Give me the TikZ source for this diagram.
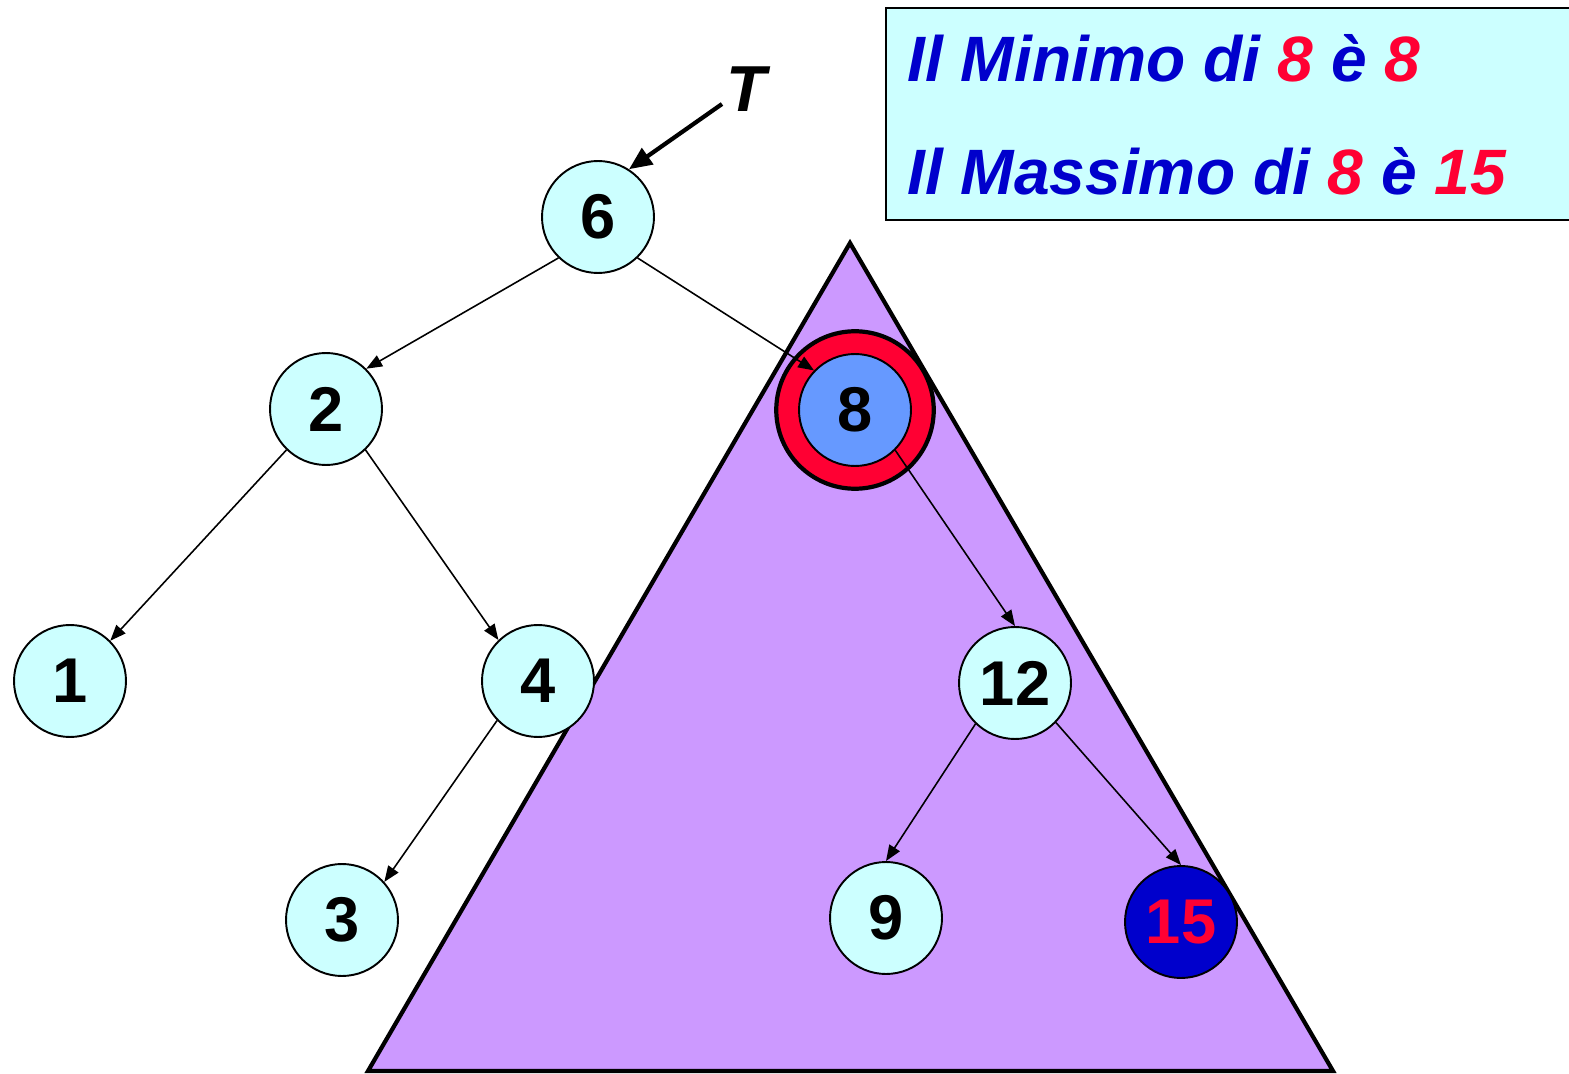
\documentclass[tikz,border=0pt]{standalone}
\usepackage{fontspec}
\setmainfont{Liberation Sans}
\usetikzlibrary{arrows.meta}
\definecolor{pale}{HTML}{CCFFFF}
\definecolor{lilac}{HTML}{CC99FF}
\definecolor{sky}{HTML}{6699FF}
\definecolor{hot}{HTML}{FF0033}
\definecolor{deep}{HTML}{0000CC}
\newcommand{\red}[1]{\textcolor{hot}{#1}}

\begin{document}
\begin{tikzpicture}[x=0.02cm,y=-0.02cm,
  knot/.style={circle,draw,line width=1.1pt,fill=pale,minimum size=2.24cm,inner sep=0pt,font=\fontsize{36}{40}\selectfont\bfseries},
  edge/.style={line width=0.9pt,-{Triangle[length=9pt,width=7pt]}},
  say/.style={anchor=base west,inner sep=0pt,text=deep,font=\fontsize{36.5}{40}\selectfont\bfseries\itshape}]
\useasboundingbox (0,0) rectangle (1569,1074);
% subtree of 8
\draw[fill=lilac,line width=2.4pt] (850,243) -- (1333,1071) -- (368,1071) -- cycle;
% result box
\draw[fill=pale,line width=1.2pt] (886,8) rectangle (1580,220);
\node[say] (minl) at (907,82) {Il Minimo di \red{8} è \red{8}};
\node[say] (maxl) at (907,195) {Il Massimo di \red{8} è \red{15}};
% nodes
\node[knot] (n6) at (598,217) {6};
\node[knot] (n2) at (326,409) {2};
\node[knot] (n1) at (70,681) {1};
\node[knot] (n4) at (538,681) {4};
\node[knot] (n3) at (342,920) {3};
\node[circle,draw,line width=2.4pt,fill=hot,minimum size=3.15cm] (ring8) at (855,410) {};
\node[knot,fill=sky] (n8) at (855,410) {8};
\node[knot] (n12) at (1015,683) {12};
\node[knot] (n9) at (886,918) {9};
\node[knot,fill=deep,text=hot] (n15) at (1181,922) {15};
% root pointer
\node[inner sep=0pt,font=\fontsize{37}{40}\selectfont\bfseries\itshape] (T) at (746,89) {T};
\coordinate (tfoot) at (722,104);
\draw[line width=2.4pt,-{Triangle[length=13pt,width=11pt]}] (tfoot) -- (n6.57);
% edges
\draw[edge] (n6.226) -- (n2.45);
\draw[edge] (n6.314) -- (n8.136);
\draw[edge] (n2.226) -- (n1.45);
\draw[edge] (n2.314) -- (n4.134);
\draw[edge] (n4.224) -- (n3.42);
\draw[edge] (n8.315) -- (n12.north);
\draw[edge] (n12.226) -- (n9.north);
\draw[edge] (n12.316) -- (n15.north);
\end{tikzpicture}
\end{document}
